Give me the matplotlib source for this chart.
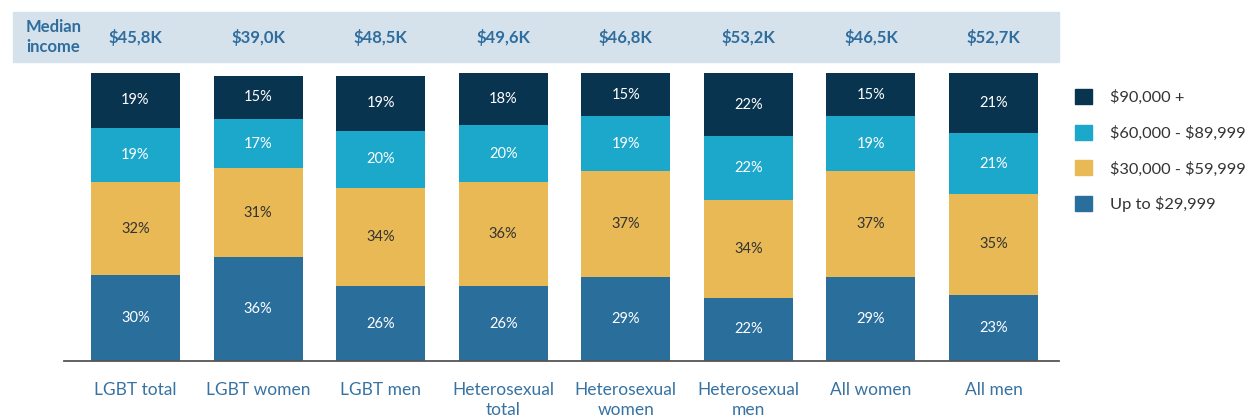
import matplotlib
matplotlib.use("Agg")
import matplotlib.pyplot as plt
from matplotlib.patches import Rectangle, Patch
import numpy as np

plt.rcParams['font.family'] = ['Lato', 'DejaVu Sans']
plt.rcParams['text.parse_math'] = False

# data
categories = ["LGBT total", "LGBT women", "LGBT men", "Heterosexual\ntotal",
              "Heterosexual\nwomen", "Heterosexual\nmen", "All women", "All men"]
median_income = ["$45,8K", "$39,0K", "$48,5K", "$49,6K", "$46,8K", "$53,2K", "$46,5K", "$52,7K"]
up_to_30k = [30, 36, 26, 26, 29, 22, 29, 23]
from_30k = [32, 31, 34, 36, 37, 34, 37, 35]
from_60k = [19, 17, 20, 20, 19, 22, 19, 21]
over_90k = [19, 15, 19, 18, 15, 22, 15, 21]

series = [up_to_30k, from_30k, from_60k, over_90k]
names = ["Up to $29,999", "$30,000 - $59,999", "$60,000 - $89,999", "$90,000 +"]
colors = ["#2a6e9c", "#e9b955", "#1ba8cb", "#09344f"]
text_colors = ["white", "#333333", "white", "white"]

W, H = 1248, 417
fig = plt.figure(figsize=(W / 100, H / 100), dpi=100)

# header band
fig.patches.append(Rectangle((13 / W, 1 - 62 / H), (1059 - 13) / W, 50 / H,
                             transform=fig.transFigure, color="#d5e1eb", zorder=0))
fig.text(26 / W, 1 - 37 / H, "Median\nincome", fontsize=12, fontweight="bold",
         color="#2e6d9e", va="center", ha="left", linespacing=1.25)

ax = fig.add_axes([64 / W, 56 / H, (1059 - 64) / W, 288 / H])
x = np.arange(len(categories))
bottom = np.zeros(len(categories))
for vals, col, tc in zip(series, colors, text_colors):
    vals = np.array(vals)
    ax.bar(x, vals, bottom=bottom, width=0.726, color=col)
    for xi, b, v in zip(x, bottom, vals):
        ax.text(xi, b + v / 2, f"{v}%", ha="center", va="center", fontsize=10.5, color=tc)
    bottom += vals

ax.set_xlim(-0.583, 7.534)
ax.set_ylim(0, 100)
ax.set_yticks([])
ax.set_xticks(x)
ax.set_xticklabels(categories, fontsize=12.5, color="#3673a3", linespacing=1.3)
ax.tick_params(axis="x", length=0, pad=15)
for s in ["top", "left", "right"]:
    ax.spines[s].set_visible(False)
ax.spines["bottom"].set_color("#555555")
ax.spines["bottom"].set_linewidth(1.3)

# median income values in the header
for xi, m in zip(x, median_income):
    fx = ax.transData.transform((xi, 0))[0] / W
    fig.text(fx, 1 - 37 / H, m, ha="center", va="center", fontsize=12,
             fontweight="bold", color="#2e6d9e")

handles = [Patch(color=c) for c in colors[::-1]]
fig.legend(handles, names[::-1], loc="upper left", bbox_to_anchor=(1060 / W, 1 - 74 / H),
           frameon=False, fontsize=11.8, handlelength=1.04, handleheight=1.04,
           labelspacing=1.2, handletextpad=1.1, labelcolor="#333333")

fig.savefig("out.png", dpi=100)
